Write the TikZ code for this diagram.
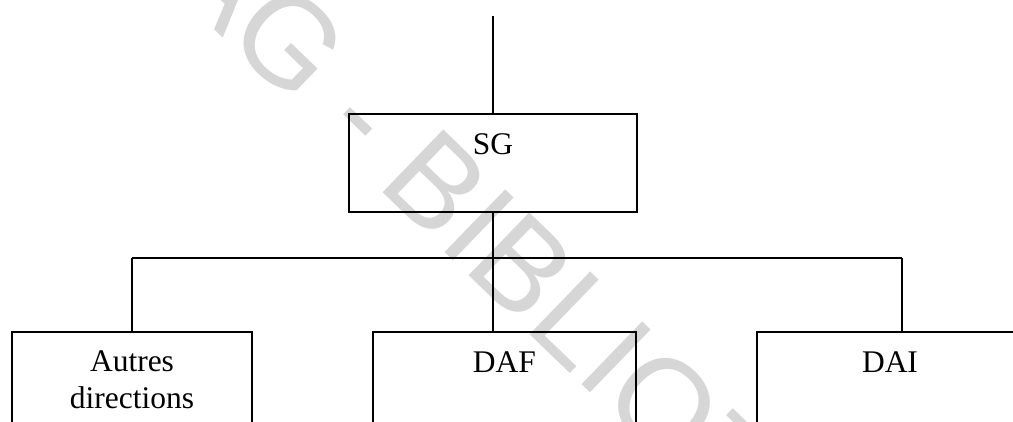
\documentclass[tikz,border=0pt]{standalone}
\usepackage{fontspec}
\setmainfont{Liberation Serif}
\newfontfamily\wmfont{Liberation Sans}
\usetikzlibrary{positioning}
\definecolor{wmgray}{HTML}{D6D6D6}

\begin{document}
\begin{tikzpicture}[x=1pt,y=-1pt,
  unit/.style={draw,line width=1.5pt,inner sep=0pt,anchor=north,align=center,
    text height=41pt,font=\fontsize{31.5}{37}\selectfont},
  link/.style={line width=1.4pt}]
  \clip (0,0) rectangle (1013,421);
  % watermark
  \node[wmgray,font=\wmfont\fontsize{127}{127}\selectfont,anchor=base west,rotate=-44,inner sep=0pt]
    (wm) at (-25.6,-201.8) {CESAG - BIBLIOTHEQUE};
  % boxes
  \node[unit,minimum width=288pt,text depth=57pt] (sg) at (493,113) {SG};
  \node[unit,minimum width=240pt,text height=77pt,text depth=80pt] (autres) at (132,331) {Autres\\directions};
  \node[unit,minimum width=263pt,text depth=120pt] (daf) at (504.5,331) {DAF};
  \node[unit,minimum width=266pt,text depth=120pt] (dai) at (890,331) {DAI};
  % connectors
  \coordinate (top) at (493,16);
  \coordinate (busL) at (132,258);
  \coordinate (busR) at (902,258);
  \draw[link] (top) -- (sg.north -| top);
  \draw[link] (sg.south -| top) -- (daf.north -| top);
  \draw[link] (busL) -- (busR);
  \draw[link] (busL) -- (autres.north);
  \draw[link] (busR) -- (busR |- dai.north);
\end{tikzpicture}
\end{document}
